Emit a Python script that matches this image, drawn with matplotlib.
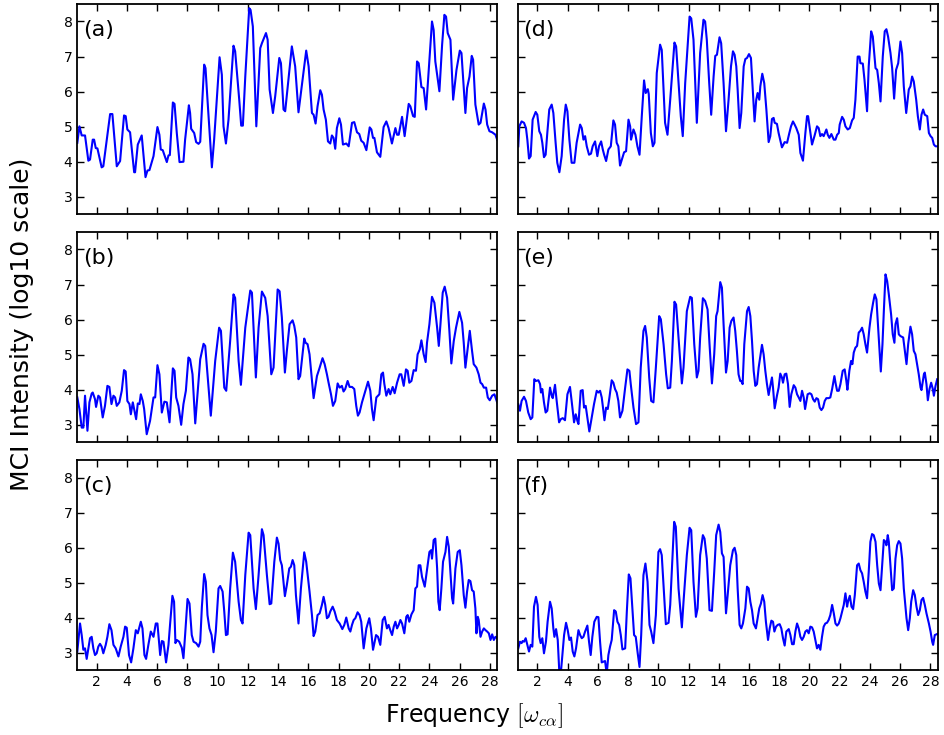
import numpy as np
import matplotlib
matplotlib.use('Agg')
import matplotlib.pyplot as plt

plt.rcParams['mathtext.fontset'] = 'cm'

# values (frequency, log10 intensity)
freq_a = [0.72, 0.86, 1.01, 1.23, 1.45, 1.56, 1.74, 1.83, 1.94, 2.05, 2.33, 2.44, 2.89, 3.04, 3.33, 3.55, 3.81, 3.92, 4.03, 4.21,
          4.48, 4.54, 4.72, 4.98, 5.23, 5.36, 5.49, 5.76, 6.02, 6.15, 6.24, 6.37, 6.64, 6.75, 6.84, 7.04, 7.15, 7.3, 7.48, 7.74,
          7.85, 8.1, 8.18, 8.25, 8.45, 8.58, 8.74, 8.85, 9.11, 9.2, 9.33, 9.62, 9.77, 10.13, 10.28, 10.39, 10.55, 10.72, 11.05, 11.16,
          11.27, 11.43, 11.56, 11.67, 11.83, 12.09, 12.18, 12.33, 12.56, 12.82, 12.93, 13.2, 13.31, 13.44, 13.66, 13.81, 14.08, 14.19,
          14.36, 14.47, 14.91, 15.13, 15.35, 15.86, 16.02, 16.24, 16.35, 16.48, 16.61, 16.79, 16.9, 17.01, 17.16, 17.3, 17.45, 17.56,
          17.67, 17.78, 17.89, 18.05, 18.16, 18.29, 18.51, 18.67, 18.89, 19.04, 19.22, 19.37, 19.5, 19.66, 19.84, 20.06, 20.17, 20.28,
          20.37, 20.54, 20.76, 20.98, 21.16, 21.31, 21.53, 21.76, 21.87, 21.98, 22.2, 22.37, 22.64, 22.75, 22.93, 23.04, 23.19, 23.3,
          23.48, 23.63, 23.79, 23.92, 24.18, 24.29, 24.4, 24.67, 24.85, 25.0, 25.11, 25.22, 25.4, 25.58, 25.8, 26.02, 26.13, 26.39,
          26.5, 26.66, 26.81, 26.9, 27.05, 27.27, 27.39, 27.61, 27.72, 27.83, 27.98, 28.16, 28.38, 28.49]
mci_a = [4.54, 5.01, 4.75, 4.75, 4.03, 4.06, 4.63, 4.63, 4.39, 4.38, 3.84, 3.87, 5.36, 5.36, 3.87, 4.02, 5.32, 5.3, 4.92, 4.84,
         3.70, 3.70, 4.49, 4.75, 3.56, 3.75, 3.76, 4.16, 4.99, 4.77, 4.35, 4.33, 3.99, 4.18, 4.19, 5.69, 5.65, 4.82, 3.99, 4.0,
         4.63, 5.61, 5.39, 4.94, 4.82, 4.56, 4.51, 4.57, 6.77, 6.67, 5.77, 3.84, 4.63, 6.98, 6.48, 5.01, 4.52, 5.2, 7.31, 7.15,
         6.58, 5.77, 5.03, 5.03, 6.43, 8.38, 8.33, 7.86, 5.01, 7.24, 7.38, 7.67, 7.48, 6.06, 5.39, 5.87, 6.96, 6.81,
         5.49, 5.44, 7.29, 6.72, 5.41, 7.17, 6.72, 5.39, 5.34, 5.09, 5.58, 6.04, 5.91, 5.49, 5.2, 4.58, 4.52, 4.75,
         4.68, 4.37, 4.96, 5.24, 5.06, 4.49, 4.52, 4.44, 5.11, 5.13, 4.84, 4.79, 4.6, 4.54, 4.33, 4.98, 4.92, 4.68,
         4.68, 4.27, 4.14, 4.99, 5.15, 4.96, 4.52, 4.96, 4.77, 4.77, 5.28, 4.73, 5.65, 5.58, 5.3, 5.28, 6.86, 6.81,
         6.13, 6.1, 5.49, 6.34, 8.0, 7.76, 6.86, 6.01, 7.34, 8.19, 8.14, 7.67, 7.48, 5.77, 6.62, 7.17, 7.1, 5.39,
         6.1, 6.43, 7.02, 6.91, 5.63, 5.06, 5.11, 5.66, 5.49, 5.06, 4.87, 4.84, 4.77, 4.63]

freq_b = [0.72, 0.86, 1.01, 1.12, 1.23, 1.39, 1.52, 1.67, 1.74, 1.89, 1.96, 2.11, 2.22, 2.4, 2.55, 2.71, 2.84, 2.98, 3.11, 3.22,
          3.33, 3.5, 3.66, 3.81, 3.92, 4.03, 4.17, 4.26, 4.39, 4.5, 4.61, 4.72, 4.83, 4.92, 5.05, 5.14, 5.31, 5.53, 5.76, 5.87,
          6.02, 6.15, 6.31, 6.48, 6.64, 6.82, 7.04, 7.15, 7.26, 7.41, 7.59, 7.74, 7.9, 8.07, 8.18, 8.34, 8.52, 8.85, 9.07, 9.18,
          9.33, 9.55, 9.84, 10.1, 10.22, 10.44, 10.57, 10.83, 11.05, 11.16, 11.39, 11.54, 11.83, 12.16, 12.27, 12.53, 12.71, 12.93, 13.15, 13.31,
          13.55, 13.7, 13.97, 14.1, 14.25, 14.32, 14.45, 14.58, 14.76, 14.96, 15.07, 15.2, 15.35, 15.46, 15.57, 15.73, 15.82, 15.95, 16.08, 16.24,
          16.35, 16.57, 16.75, 16.94, 17.08, 17.23, 17.34, 17.5, 17.63, 17.78, 17.94, 18.07, 18.22, 18.33, 18.44, 18.6, 18.73, 18.89, 19.04, 19.17,
          19.28, 19.39, 19.55, 19.77, 19.95, 20.1, 20.21, 20.32, 20.5, 20.7, 20.83, 20.94, 21.03, 21.16, 21.31, 21.42, 21.58, 21.71, 21.87, 22.04,
          22.15, 22.31, 22.46, 22.57, 22.68, 22.82, 22.97, 23.12, 23.23, 23.37, 23.48, 23.63, 23.76, 23.85, 24.01, 24.18, 24.34, 24.52, 24.63, 24.74,
          24.89, 25.02, 25.18, 25.33, 25.46, 25.62, 25.77, 25.99, 26.17, 26.28, 26.39, 26.55, 26.68, 26.83, 26.94, 27.12, 27.27, 27.39, 27.5, 27.61,
          27.76, 27.87, 28.0, 28.16, 28.31, 28.49]
mci_b = [3.78, 3.45, 2.92, 2.92, 3.83, 2.83, 3.64, 3.89, 3.92, 3.73, 3.51, 3.83, 3.78, 3.21, 3.54, 4.11, 4.08, 3.59, 3.83, 3.78,
         3.54, 3.64, 3.97, 4.56, 4.52, 3.68, 3.59, 3.30, 3.64, 3.40, 3.16, 3.61, 3.59, 3.87, 3.68, 3.45, 2.73, 3.11, 3.78, 3.78,
         4.70, 4.44, 3.35, 3.66, 3.64, 3.07, 4.61, 4.54, 3.78, 3.54, 3.0, 3.59, 3.97, 4.92, 4.87, 4.44, 3.04, 4.87, 5.31, 5.25,
         4.44, 3.26, 4.82, 5.77, 5.68, 4.06, 3.97, 5.39, 6.72, 6.62, 4.82, 4.14, 5.77, 6.83, 6.77, 4.35, 5.77, 6.80, 6.62, 6.10,
         4.44, 4.63, 6.86, 6.81, 6.06, 5.49, 4.49, 5.11, 5.87, 5.98, 5.82, 5.49, 4.3, 4.39, 4.82, 5.46, 5.34, 5.3, 5.01, 4.25,
         3.76, 4.39, 4.63, 4.9, 4.73, 4.44, 4.2, 3.87, 3.54, 3.68, 4.18, 4.06, 4.11, 3.95, 4.02, 4.25, 4.08, 4.08, 4.02, 3.54,
         3.26, 3.35, 3.64, 3.97, 4.23, 3.97, 3.45, 3.13, 3.78, 3.87, 4.44, 4.49, 4.16, 3.83, 4.02, 3.87, 4.08, 3.90, 4.2, 4.44,
         4.44, 4.11, 4.58, 4.54, 4.2, 4.25, 4.56, 4.54, 5.01, 5.15, 5.41, 5.01, 4.79, 5.34, 5.87, 6.65, 6.48, 5.77, 5.25, 5.87,
         6.77, 6.94, 6.62, 5.68, 4.75, 5.39, 5.77, 6.22, 5.91, 5.34, 4.63, 5.2, 5.68, 5.11, 4.73, 4.63, 4.44, 4.2, 4.16, 4.06,
         4.06, 3.78, 3.70, 3.83, 3.87, 3.64]

freq_c = [0.72, 0.9, 1.01, 1.12, 1.23, 1.34, 1.45, 1.56, 1.67, 1.78, 1.89, 2.0, 2.11, 2.22, 2.33, 2.44, 2.6, 2.71, 2.84, 2.98,
          3.11, 3.26, 3.44, 3.59, 3.77, 3.88, 3.99, 4.14, 4.28, 4.43, 4.59, 4.72, 4.92, 5.03, 5.16, 5.27, 5.42, 5.58, 5.76, 5.91,
          6.02, 6.2, 6.31, 6.42, 6.59, 6.75, 6.86, 7.01, 7.12, 7.21, 7.3, 7.46, 7.63, 7.74, 7.85, 8.01, 8.14, 8.29, 8.41, 8.58,
          8.74, 8.85, 8.96, 9.11, 9.22, 9.33, 9.46, 9.6, 9.73, 9.88, 10.06, 10.17, 10.33, 10.44, 10.55, 10.66, 10.83, 11.01, 11.16, 11.39,
          11.54, 11.65, 11.83, 12.05, 12.16, 12.38, 12.53, 12.71, 12.93, 13.04, 13.26, 13.44, 13.55, 13.75, 13.92, 14.03, 14.14, 14.25,
          14.36, 14.45, 14.58, 14.74, 14.85, 14.96, 15.07, 15.18, 15.35, 15.51, 15.73, 15.86, 16.08, 16.24, 16.35, 16.46, 16.61, 16.75,
          16.9, 17.01, 17.12, 17.23, 17.34, 17.45, 17.61, 17.74, 17.89, 18.07, 18.25, 18.38, 18.51, 18.67, 18.78, 18.89, 19.0, 19.11,
          19.26, 19.39, 19.5, 19.66, 19.84, 20.03, 20.14, 20.28, 20.48, 20.61, 20.76, 20.92, 21.05, 21.2, 21.31, 21.42, 21.54, 21.65,
          21.76, 21.87, 21.98, 22.09, 22.2, 22.35, 22.48, 22.57, 22.68, 22.82, 22.97, 23.08, 23.19, 23.3, 23.41, 23.52, 23.7, 23.85,
          24.01, 24.12, 24.18, 24.29, 24.4, 24.52, 24.6, 24.69, 24.8, 24.91, 25.07, 25.18, 25.29, 25.4, 25.51, 25.58, 25.73, 25.88,
          26.02, 26.13, 26.28, 26.39, 26.5, 26.61, 26.72, 26.83, 26.94, 27.05, 27.12, 27.21, 27.27, 27.39, 27.5, 27.61, 27.72, 27.83,
          27.94, 28.05, 28.16, 28.27, 28.38, 28.49]
mci_c = [3.04, 3.84, 3.51, 3.09, 3.13, 2.83, 3.13, 3.42, 3.46, 3.13, 2.94, 2.99, 3.18, 3.26, 3.18, 2.99, 3.23, 3.46, 3.82, 3.65,
         3.23, 3.13, 2.9, 3.18, 3.46, 3.75, 3.72, 2.94, 2.73, 3.13, 3.65, 3.56, 3.89, 3.70, 2.94, 2.83, 3.23, 3.61, 3.46, 3.84,
         3.84, 2.94, 3.34, 3.32, 2.73, 3.23, 3.84, 4.63, 4.46, 3.28, 3.37, 3.32, 3.15, 2.85, 3.51, 4.54, 4.41, 3.51, 3.32, 3.28,
         3.18, 3.32, 4.32, 5.25, 5.03, 4.08, 3.70, 3.51, 3.02, 3.61, 4.84, 4.91, 4.75, 4.18, 3.51, 3.53, 4.84, 5.86, 5.6, 4.46,
         3.94, 3.84, 5.22, 6.43, 6.36, 4.84, 4.25, 5.22, 6.53, 6.36, 5.22, 4.39, 4.41, 5.6, 6.29, 6.12, 5.65, 5.5,
         5.03, 4.62, 4.94, 5.41, 5.46, 5.65, 5.5, 4.65, 3.84, 4.84, 5.87, 5.6, 4.75, 4.08, 3.48, 3.61, 4.08, 4.13,
         4.37, 4.6, 4.37, 3.99, 4.03, 4.18, 4.32, 4.18, 3.94, 3.84, 3.68, 3.8, 4.01, 3.70, 3.61, 3.8, 3.94, 3.99,
         4.16, 4.08, 3.89, 3.13, 3.70, 3.99, 3.70, 3.09, 3.51, 3.46, 3.23, 3.94, 4.03, 3.70, 3.8, 3.65, 3.51, 3.75,
         3.89, 3.70, 3.8, 3.94, 3.84, 3.56, 4.03, 4.08, 3.89, 4.1, 4.22, 4.84, 4.89, 5.5, 5.5, 5.17, 4.89, 5.36,
         5.88, 5.93, 5.69, 6.22, 6.26, 5.41, 4.46, 4.22, 4.84, 5.6, 5.88, 6.31, 6.03, 5.31, 4.56, 4.41, 5.41, 5.88,
         5.93, 5.5, 4.65, 4.29, 4.75, 5.08, 5.05, 4.79, 4.75, 4.27, 3.56, 4.03, 3.94, 3.46, 3.61, 3.70, 3.65, 3.61,
         3.56, 3.37, 3.53, 3.37, 3.46, 3.42]

freq_d = [0.74, 0.81, 0.96, 1.12, 1.25, 1.34, 1.45, 1.56, 1.69, 1.89, 2.0, 2.13, 2.24, 2.33, 2.44, 2.55, 2.66, 2.79, 2.95, 3.06,
          3.21, 3.32, 3.46, 3.61, 3.77, 3.88, 3.99, 4.12, 4.27, 4.45, 4.6, 4.83, 4.94, 5.05, 5.16, 5.27, 5.42, 5.55, 5.66, 5.82,
          5.97, 6.08, 6.22, 6.33, 6.42, 6.55, 6.7, 6.86, 7.03, 7.14, 7.25, 7.36, 7.47, 7.59, 7.74, 7.87, 8.03, 8.14, 8.2, 8.36,
          8.49, 8.62, 8.76, 8.91, 9.06, 9.17, 9.31, 9.37, 9.51, 9.64, 9.75, 9.9, 10.12, 10.23, 10.45, 10.61, 10.79, 11.07, 11.18, 11.34,
          11.49, 11.62, 11.78, 12.07, 12.18, 12.33, 12.55, 12.77, 12.99, 13.1, 13.21, 13.37, 13.5, 13.66, 13.77, 13.88, 14.05, 14.16,
          14.32, 14.48, 14.65, 14.81, 14.94, 15.05, 15.16, 15.25, 15.38, 15.49, 15.65, 15.76, 15.87, 16.0, 16.13, 16.26, 16.37, 16.48,
          16.57, 16.68, 16.75, 16.88, 17.01, 17.15, 17.3, 17.41, 17.52, 17.63, 17.7, 17.85, 17.96, 18.18, 18.36, 18.52, 18.67, 18.78,
          18.91, 19.02, 19.13, 19.29, 19.4, 19.57, 19.73, 19.84, 19.91, 20.06, 20.17, 20.33, 20.5, 20.61, 20.72, 20.83, 20.94, 21.12,
          21.21, 21.32, 21.45, 21.61, 21.72, 21.83, 21.94, 22.0, 22.16, 22.27, 22.38, 22.53, 22.67, 22.82, 22.93, 23.04, 23.19, 23.31,
          23.37, 23.53, 23.64, 23.81, 23.92, 24.08, 24.19, 24.37, 24.48, 24.59, 24.7, 24.85, 24.98, 25.09, 25.2, 25.36, 25.47, 25.6,
          25.73, 25.87, 26.02, 26.13, 26.24, 26.4, 26.57, 26.68, 26.79, 26.9, 27.06, 27.17, 27.3, 27.41, 27.52, 27.63, 27.79, 27.9,
          28.01, 28.12, 28.23, 28.34, 28.45]
mci_d = [4.44, 5.01, 5.15, 5.11, 4.96, 4.63, 4.09, 4.16, 5.2, 5.42, 5.34, 4.87, 4.77, 4.54, 4.13, 4.2, 4.82, 5.49, 5.63, 5.39,
         4.54, 3.97, 3.70, 4.16, 5.2, 5.63, 5.44, 4.63, 3.97, 3.97, 4.54, 5.06, 4.96, 4.63, 4.73, 4.44, 4.2, 4.23, 4.44, 4.58,
         4.16, 4.44, 4.58, 4.35, 4.2, 4.02, 4.35, 4.44, 5.18, 5.06, 4.54, 4.44, 3.89, 4.06, 4.27, 4.3, 5.2, 5.01, 4.63, 4.92,
         4.77, 4.44, 4.2, 5.3, 6.32, 5.96, 6.07, 5.93, 4.82, 4.44, 4.54, 6.53, 7.34, 7.19, 5.11, 4.77, 5.77, 7.4, 7.29, 6.24,
         5.3, 4.73, 6.24, 8.14, 8.09, 7.48, 5.11, 7.1, 8.05, 8.0, 7.48, 6.24, 5.34, 6.43, 7.02, 7.05, 7.55, 7.38,
         6.24, 4.87, 5.77, 6.72, 7.15, 7.05, 6.72, 6.06, 4.96, 5.39, 6.72, 6.93, 6.96, 7.07, 6.96, 5.96, 5.15, 5.77,
         5.96, 5.77, 6.15, 6.51, 6.24, 5.49, 4.56, 4.73, 5.22, 5.25, 5.11, 5.08, 4.82, 4.41, 4.56, 4.54, 4.82, 5.01,
         5.15, 5.06, 4.96, 4.77, 4.25, 4.03, 4.82, 5.3, 5.3, 4.82, 4.49, 4.73, 5.01, 4.96, 4.73, 4.79, 4.73, 4.92,
         4.77, 4.68, 4.79, 4.63, 4.63, 4.77, 4.82, 5.06, 5.28, 5.2, 5.01, 4.92, 4.96, 5.18, 5.25, 5.77, 7.0, 7.0,
         6.81, 6.80, 6.34, 5.44, 6.72, 7.72, 7.57, 6.67, 6.62, 6.24, 5.72, 7.0, 7.72, 7.78, 7.57, 7.1, 6.67, 5.8,
         6.62, 6.81, 7.43, 7.1, 6.15, 5.39, 6.06, 6.15, 6.43, 6.29, 5.77, 5.3, 4.92, 5.34, 5.49, 5.34, 5.3, 4.82,
         4.73, 4.68, 4.49, 4.44, 4.44]

freq_e = [0.74, 0.85, 0.96, 1.12, 1.25, 1.4, 1.56, 1.67, 1.8, 1.91, 2.07, 2.18, 2.24, 2.33, 2.44, 2.55, 2.66, 2.84, 2.95, 3.02,
          3.17, 3.28, 3.44, 3.55, 3.68, 3.83, 3.99, 4.16, 4.27, 4.43, 4.54, 4.65, 4.72, 4.87, 5.0, 5.09, 5.2, 5.31, 5.44, 5.6,
          5.75, 5.93, 6.04, 6.15, 6.26, 6.37, 6.44, 6.55, 6.66, 6.77, 6.92, 7.03, 7.14, 7.25, 7.36, 7.47, 7.63, 7.81, 7.96, 8.09,
          8.18, 8.36, 8.53, 8.69, 8.84, 9.02, 9.13, 9.24, 9.4, 9.53, 9.68, 9.84, 10.06, 10.17, 10.35, 10.52, 10.63, 10.79, 10.9, 11.07,
          11.18, 11.34, 11.56, 11.67, 11.89, 12.11, 12.22, 12.38, 12.55, 12.66, 12.77, 12.95, 13.1, 13.26, 13.39, 13.55, 13.7, 13.83,
          13.92, 14.1, 14.21,
          14.32, 14.48, 14.59, 14.72, 14.83, 14.98, 15.09, 15.2, 15.31, 15.42, 15.49, 15.58, 15.69, 15.87, 15.98, 16.09, 16.2, 16.31,
          16.42, 16.53, 16.64, 16.86, 16.97, 17.08, 17.19, 17.3, 17.41, 17.52, 17.59, 17.7, 17.85, 17.96, 18.07, 18.18, 18.25, 18.36,
          18.47, 18.58, 18.69, 18.8, 18.96, 19.07, 19.18, 19.29, 19.4, 19.51, 19.62, 19.71, 19.8, 19.88, 20.02, 20.13, 20.24, 20.35,
          20.46, 20.57, 20.68, 20.79, 20.9, 21.01, 21.12, 21.27, 21.38, 21.5, 21.65, 21.74, 21.83, 21.94, 22.05, 22.2, 22.33, 22.44,
          22.51, 22.64, 22.75, 22.84, 22.93, 23.04, 23.15, 23.26, 23.37, 23.48, 23.59, 23.7, 23.81, 23.97, 24.08, 24.21, 24.32, 24.43,
          24.54, 24.65, 24.72, 24.83, 24.92, 25.03, 25.14, 25.25, 25.4, 25.51, 25.62, 25.69, 25.8, 25.91, 26.02, 26.2, 26.31, 26.42,
          26.53, 26.68, 26.79, 26.9, 27.01, 27.12, 27.23, 27.35, 27.41, 27.57, 27.63, 27.74, 27.83, 27.94, 28.05, 28.16, 28.23, 28.34,
          28.45]
mci_e = [3.59, 3.4, 3.68, 3.8, 3.68, 3.35, 3.16, 3.21, 4.3, 4.25, 4.27, 4.16, 3.92, 4.02, 3.64, 3.35, 3.4, 4.06, 3.83, 3.76,
         4.14, 3.68, 3.07, 3.16, 3.19, 3.13, 3.87, 4.08, 3.68, 3.07, 3.3, 3.11, 3.02, 3.97, 3.99, 3.49, 3.54, 3.21, 2.81, 3.21,
         3.59, 3.97, 3.92, 3.97, 3.78, 3.4, 3.13, 3.49, 3.45, 3.78, 4.27, 4.2, 4.02, 3.92, 3.68, 3.21, 3.4, 4.06, 4.58, 4.54,
         4.16, 3.49, 3.02, 3.07, 4.63, 5.68, 5.82, 5.49, 4.35, 3.68, 3.64, 4.63, 6.1, 6.01, 5.3, 4.44, 4.04, 4.06, 4.82, 6.51,
         6.43, 5.49, 4.18, 4.63, 6.24, 6.65, 6.62, 5.3, 4.35, 4.54, 5.49, 6.61, 6.53, 6.29, 5.3, 4.18, 5.01, 6.1,
         6.24, 7.07, 6.91,
         5.87, 4.49, 4.82, 5.77, 5.96, 6.06, 5.68, 5.11, 4.44, 4.25, 4.25, 4.16, 5.3, 6.24, 6.36, 6.1, 5.39, 4.54,
         4.11, 4.16, 4.63, 5.28, 5.01, 4.54, 4.16, 3.85, 4.11, 4.35, 4.06, 3.47, 3.83, 4.06, 4.46, 4.35, 4.2, 4.44,
         4.46, 4.16, 3.51, 3.87, 4.13, 4.06, 3.87, 3.78, 3.68, 3.97, 3.78, 3.45, 3.68, 3.87, 3.9, 3.87, 3.73, 3.66,
         3.76, 3.73, 3.49, 3.42, 3.49, 3.68, 3.76, 3.76, 3.78, 4.02, 4.39, 4.16, 3.97, 3.97, 4.16, 4.54, 4.58, 4.25,
         4.0, 4.54, 4.82, 4.73, 5.06, 5.2, 5.25, 5.63, 5.68, 5.77, 5.58, 5.3, 5.06, 5.77, 6.15, 6.48, 6.72, 6.58,
         5.77, 5.01, 4.52, 5.3, 6.24, 7.29, 7.1, 6.72, 6.15, 5.58, 5.34, 5.87, 6.04, 5.58, 5.53, 5.49, 5.11, 4.73,
         5.3, 5.8, 5.58, 5.11, 5.01, 4.73, 4.44, 4.06, 3.99, 4.44, 4.49, 4.16, 3.70, 4.02, 4.2, 4.02, 3.83, 4.11,
         4.3]

freq_f = [0.74, 0.85, 0.96, 1.03, 1.12, 1.23, 1.34, 1.45, 1.56, 1.67, 1.78, 1.91, 2.02, 2.13, 2.22, 2.33, 2.44, 2.57, 2.68, 2.84,
          2.95, 3.06, 3.13, 3.24, 3.35, 3.46, 3.55, 3.66, 3.77, 3.9, 4.01, 4.12, 4.23, 4.34, 4.45, 4.56, 4.72, 4.83, 4.94, 5.05,
          5.16, 5.31, 5.42, 5.53, 5.64, 5.77, 5.93, 6.04, 6.15, 6.26, 6.37, 6.48, 6.59, 6.7, 6.81, 6.92, 7.08, 7.19, 7.3, 7.41,
          7.52, 7.63, 7.81, 7.92, 8.05, 8.16, 8.29, 8.4, 8.51, 8.64, 8.76, 8.87, 9.02, 9.15, 9.29, 9.42, 9.53, 9.68, 9.84, 10.01,
          10.12, 10.23, 10.39, 10.5, 10.68, 10.79, 11.05, 11.16, 11.34, 11.56, 11.67, 11.89, 12.07, 12.18, 12.33, 12.49, 12.6, 12.77,
          12.95, 13.06, 13.21, 13.39, 13.55, 13.7, 13.83, 13.99, 14.1, 14.21,
          14.32, 14.48, 14.59, 14.76, 14.94, 15.05, 15.16, 15.25, 15.38, 15.49, 15.6, 15.76, 15.87, 15.98, 16.09, 16.2, 16.31, 16.46,
          16.57, 16.68, 16.79, 16.9, 17.01, 17.12, 17.26, 17.37, 17.48, 17.59, 17.68, 17.79, 17.9, 18.03, 18.14, 18.25, 18.36, 18.47,
          18.63, 18.74, 18.85, 18.96, 19.07, 19.18, 19.29, 19.4, 19.51, 19.62, 19.73, 19.84, 19.95, 20.06, 20.17, 20.28, 20.39, 20.5,
          20.61, 20.72, 20.83, 20.94, 21.05, 21.16, 21.27, 21.38, 21.5, 21.61, 21.72, 21.83, 21.94, 22.05, 22.16, 22.27, 22.38, 22.49,
          22.55, 22.67, 22.78, 22.89, 23.0, 23.15, 23.26, 23.37, 23.48, 23.59, 23.7, 23.81, 23.92, 24.03, 24.14, 24.25, 24.37, 24.48,
          24.59, 24.7, 24.81, 24.92, 25.03, 25.09, 25.18, 25.25, 25.36, 25.47, 25.58, 25.69, 25.8, 25.91, 26.02, 26.13, 26.24, 26.42,
          26.53, 26.64, 26.73, 26.86, 26.97, 27.08, 27.19, 27.3, 27.41, 27.52, 27.63, 27.74, 27.9, 28.01, 28.12, 28.18, 28.29, 28.45]
mci_f = [3.13, 3.32, 3.28, 3.34, 3.32, 3.42, 3.23, 3.04, 3.23, 3.18, 4.32, 4.6, 4.37, 3.46, 3.28, 3.42, 2.99, 3.32, 3.89, 4.46,
         4.27, 3.7, 3.46, 3.68, 3.37, 2.4, 2.4, 2.94, 3.51, 3.86, 3.65, 3.37, 3.44, 3.04, 2.9, 3.13, 3.65, 3.51, 3.42, 3.46,
         3.61, 3.78, 3.32, 2.94, 3.46, 3.89, 4.03, 4.02, 3.32, 2.73, 2.75, 2.77, 2.4, 2.94, 3.18, 3.37, 4.22, 4.18, 3.89, 3.8,
         3.51, 3.1, 3.13, 4.18, 5.24, 5.13, 4.27, 3.51, 3.46, 2.99, 2.6, 3.51, 5.22, 5.55, 5.03, 3.8, 3.61, 3.28, 4.08, 5.88,
         5.96, 5.79, 4.65, 3.82, 3.86, 4.37, 6.74, 6.6, 4.84, 3.73, 4.46, 5.79, 6.57, 6.5, 5.03, 4.03, 4.27, 5.79,
         6.36, 6.26, 5.69, 4.22, 4.2, 5.31, 6.36, 6.66, 6.45, 5.84,
         5.74, 4.13, 4.65, 5.5, 5.93, 6.0, 5.79, 4.84, 3.8, 3.7, 3.84, 4.27, 4.89, 4.84, 4.46, 4.22, 3.84, 3.7,
         3.99, 4.27, 4.41, 4.65, 4.46, 3.89, 3.37, 3.7, 3.92, 3.89, 3.61, 3.75, 3.8, 3.82, 3.7, 3.42, 3.21, 3.61,
         3.68, 3.51, 3.25, 3.25, 3.61, 3.84, 3.7, 3.46, 3.37, 3.46, 3.61, 3.65, 3.56, 3.75, 3.73, 3.61, 3.37, 3.13,
         3.23, 3.09, 3.46, 3.75, 3.84, 3.86, 3.94, 4.08, 4.37, 4.13, 3.84, 3.78, 3.84, 3.99, 4.18, 4.37, 4.7, 4.32,
         4.46, 4.63, 4.32, 4.25, 4.65, 5.5, 5.55, 5.36, 5.27, 5.03, 4.75, 4.56, 5.31, 6.17, 6.39, 6.36, 6.17, 5.5,
         4.98, 4.79, 5.5, 6.22, 6.17, 6.07, 6.36, 6.17, 5.5, 4.79, 4.84, 5.69, 6.07, 6.19, 6.12, 5.69, 4.84, 3.99,
         3.65, 3.99, 4.46, 4.79, 4.65, 4.32, 4.08, 4.22, 4.51, 4.57, 4.37, 4.13, 3.84, 3.61, 3.32, 3.23, 3.51, 3.54]

panel_labels = ['(a)', '(b)', '(c)', '(d)', '(e)', '(f)']
xticks = np.arange(2, 29, 2)
yticks = np.arange(3, 9, 1)

fig = plt.figure(figsize=(9.44, 7.35), dpi=100)

lefts = [0.0819, 0.5487]
bottoms = [0.7084, 0.3982, 0.0878]
w, h = 0.4449, 0.2862

series = [(freq_a, mci_a), (freq_b, mci_b), (freq_c, mci_c),
          (freq_d, mci_d), (freq_e, mci_e), (freq_f, mci_f)]

for i, (fx, fy) in enumerate(series):
    col, row = i // 3, i % 3
    ax = fig.add_axes([lefts[col], bottoms[row], w, h])
    ax.plot(fx, fy, color='#0000ff', linewidth=1.5)
    ax.set_xlim(0.72, 28.5)
    ax.set_ylim(2.5, 8.5)
    ax.set_xticks(xticks)
    ax.set_yticks(yticks)
    ax.tick_params(direction='in', top=True, right=True, length=5, width=1, labelsize=10)
    for sp in ax.spines.values():
        sp.set_linewidth(1.3)
    if row != 2:
        ax.set_xticklabels([])
    if col != 0:
        ax.set_yticklabels([])
    ax.text(0.013, 0.925, panel_labels[i], transform=ax.transAxes, fontsize=16, va='top', ha='left')

fig.text(0.023, 0.559, 'MCI Intensity (log10 scale)', rotation=90, fontsize=18, ha='center', va='center')
fig.text(0.502, 0.027, r'Frequency $[\omega_{c\alpha}]$', fontsize=17, ha='center', va='center')

fig.savefig('out.png', dpi=100)
